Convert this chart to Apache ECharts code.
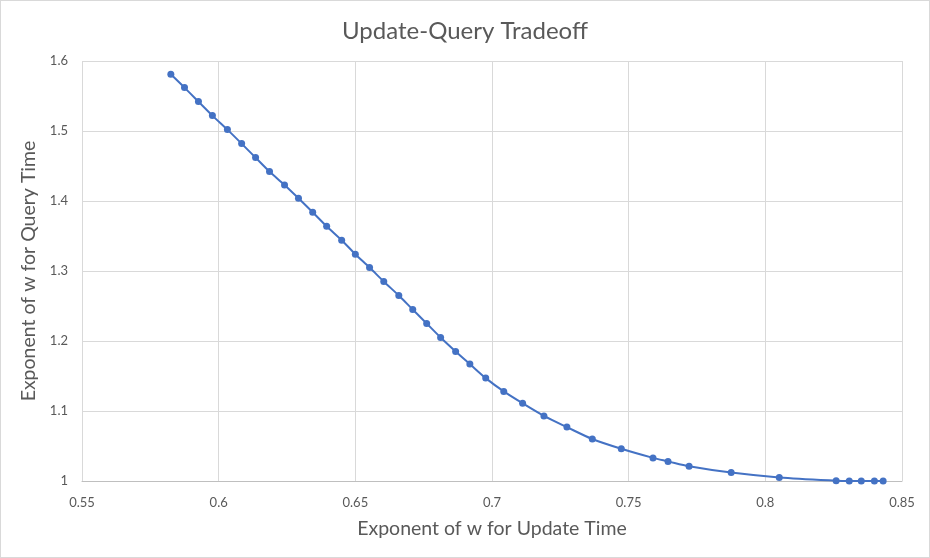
<!DOCTYPE html>
<html>
<head>
<meta charset="utf-8">
<script src="https://cdn.jsdelivr.net/npm/echarts@6/dist/echarts.min.js"></script>
<style>
html,body{margin:0;padding:0;background:#fff;}
#c{width:928px;height:556px;border:1px solid #d9d9d9;}
</style>
</head>
<body>
<div id="c"></div>
<script>
const updateExp = [0.5825,0.5875,0.5926,0.5977,0.6032,0.6084,0.6135,0.6186,0.6241,0.6292,0.6344,0.6395,0.6450,
  0.6500,0.6552,0.6604,0.6659,0.6710,0.6761,0.6812,0.6867,0.6919,0.6977,0.7043,0.7112,
  0.7190,0.7274,0.7367,0.7473,0.7589,0.7644,0.7721,0.7875,0.8051,0.8259,0.8307,0.8351,0.8399,0.8431];
const queryExp = [1.581,1.562,1.542,1.522,1.502,1.482,1.462,1.442,1.423,1.404,1.384,1.364,1.344,
  1.324,1.305,1.285,1.265,1.245,1.225,1.205,1.185,1.167,1.147,1.128,1.111,
  1.093,1.077,1.060,1.046,1.033,1.028,1.021,1.012,1.005,1.0004,1.0,1.0,1.0,1.0];
const titleText = 'Update-Query Tradeoff';
const xName = 'Exponent of w for Update Time';
const yName = 'Exponent of w for Query Time';

const pts = updateExp.map((x,i)=>[x, queryExp[i]]);
const font = 'Lato, "Open Sans", sans-serif';
const chart = echarts.init(document.getElementById('c'));
chart.setOption({
  animation:false,
  title:{text:titleText,left:'center',top:13,textStyle:{fontFamily:font,fontSize:24,fontWeight:'normal',color:'#595959'}},
  grid:{left:81,right:27,top:60,bottom:76,containLabel:false},
  xAxis:{type:'value',min:0.55,max:0.85,interval:0.05,
    name:xName,nameLocation:'middle',nameGap:38,
    nameTextStyle:{fontFamily:font,fontSize:19.5,color:'#595959'},
    axisLine:{show:true,lineStyle:{color:'#bfbfbf'}},axisTick:{show:false},
    axisLabel:{fontFamily:font,fontSize:13,color:'#595959',margin:15,formatter:v=>String(+v.toFixed(2))},
    splitLine:{show:true,lineStyle:{color:'#d9d9d9'}}},
  yAxis:{type:'value',min:1,max:1.6,interval:0.1,
    name:yName,nameLocation:'middle',nameGap:40,nameRotate:90,
    nameTextStyle:{fontFamily:font,fontSize:19.5,color:'#595959'},
    axisLine:{show:false},axisTick:{show:false},
    axisLabel:{fontFamily:font,fontSize:13,color:'#595959',margin:14,formatter:v=>String(+v.toFixed(1))},
    splitLine:{show:true,lineStyle:{color:'#d9d9d9'}}},
  series:[{type:'line',data:pts,smooth:0.3,symbol:'circle',symbolSize:7,
    lineStyle:{color:'#4472C4',width:2},itemStyle:{color:'#4472C4'}}]
});
</script>
</body>
</html>
